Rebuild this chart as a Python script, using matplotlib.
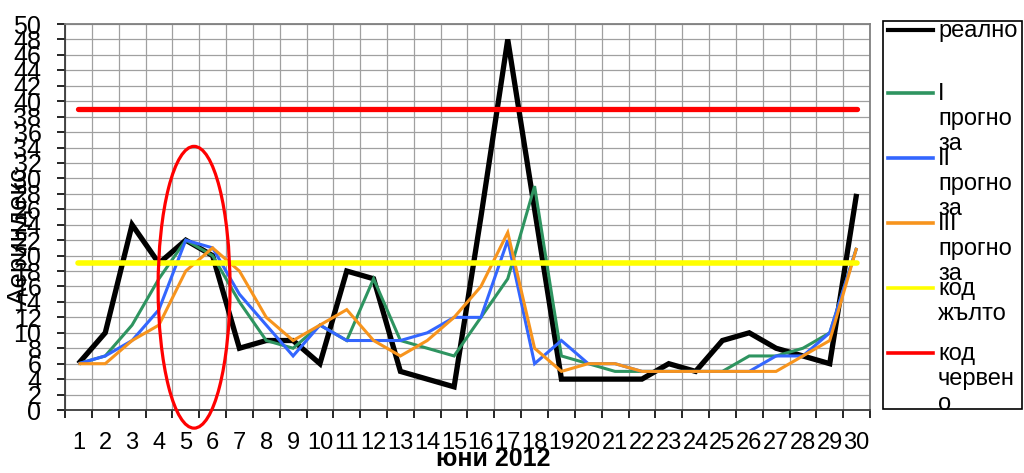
import matplotlib
matplotlib.use("Agg")
import matplotlib.pyplot as plt
from matplotlib.patches import Ellipse, Rectangle
from matplotlib.lines import Line2D

plt.rcParams['font.family'] = ['Liberation Sans', 'DejaVu Sans']

# ---------------- data ----------------
days = list(range(1, 31))
real = [6, 10, 24, 19, 22, 20, 8, 9, 9, 6, 18, 17, 5, 4, 3, 25, 48, 26, 4, 4,
        4, 4, 6, 5, 9, 10, 8, 7, 6, 28]
forecast1 = [6, 7, 11, 17, 22, 20, 14, 9, 8, 11, 9, 17, 9, 8, 7, 12, 17, 29, 7, 6,
             5, 5, 5, 5, 5, 7, 7, 8, 10, 21]
forecast2 = [6, 7, 9, 13, 22, 21, 15, 11, 7, 11, 9, 9, 9, 10, 12, 12, 22, 6, 9, 6,
             6, 5, 5, 5, 5, 5, 7, 7, 10, 21]
forecast3 = [6, 6, 9, 11, 18, 21, 18, 12, 9, 11, 13, 9, 7, 9, 12, 16, 23, 8, 5, 6,
             6, 5, 5, 5, 5, 5, 5, 7, 9, 21]
yellow_code = 19
red_code = 39
ytick_values = list(range(0, 51, 2))
xtick_labels = [str(d) for d in days]
series_labels = ["реално", "I\nпрогно\nза", "II\nпрогно\nза", "III\nпрогно\nза",
                 "код\nжълто", "код\nчервен\nо"]
x_title = "юни 2012"
y_title = "Аериндекс"
# highlight ellipse (data units): centre day, centre value, width, height
ell_center = (5.31, 15.9)
ell_size = (2.68, 36.5)

colors = ["#000000", "#2E9460", "#3366FF", "#F7941D", "#FFFF00", "#FF0000"]
widths = [3.8, 2.2, 2.2, 2.2, 4.0, 3.8]

# ---------------- figure ----------------
W, H = 1024, 473
fig = plt.figure(figsize=(W / 100, H / 100), dpi=100)
ax_l, ax_r, ax_t, ax_b = 65, 870, 24, 410
ax = fig.add_axes([ax_l / W, 1 - ax_b / H, (ax_r - ax_l) / W, (ax_b - ax_t) / H])

series = [real, forecast1, forecast2, forecast3]
for i, s in enumerate(series):
    ax.plot(days, s, color=colors[i], lw=widths[i], zorder=3 + i,
            solid_joinstyle='miter', solid_capstyle='butt')
ax.hlines(yellow_code, days[0], days[-1], color=colors[4], lw=widths[4], zorder=8,
          capstyle='round')
ax.hlines(red_code, days[0], days[-1], color=colors[5], lw=widths[5], zorder=9,
          capstyle='round')

ell = Ellipse(ell_center, ell_size[0], ell_size[1], fill=False, edgecolor="#FF0000",
              lw=2.3, zorder=10, clip_on=False)
ax.add_patch(ell)

ax.set_xlim(0.5, 30.5)
ax.set_ylim(0, 50)

# y axis
ax.set_yticks(ytick_values)
ax.set_yticklabels([str(v) for v in ytick_values], fontsize=18)
ax.tick_params(axis='y', direction='out', length=6, width=1.2, pad=11, colors='#000000')

# x axis: major ticks at category boundaries, labels at centres
ax.set_xticks([d - 0.5 for d in days] + [days[-1] + 0.5])
ax.set_xticklabels([])
ax.set_xticks(days, minor=True)
ax.set_xticklabels(xtick_labels, minor=True, fontsize=17)
ax.tick_params(axis='x', which='major', direction='out', length=6, width=1.2)
ax.tick_params(axis='x', which='minor', length=0, pad=16)

ax.grid(True, which='major', color='#A0A0A0', lw=0.9, zorder=0)
ax.set_axisbelow(True)

for side in ['top', 'right']:
    ax.spines[side].set_color('#808080')
    ax.spines[side].set_linewidth(1.3)
for side in ['left', 'bottom']:
    ax.spines[side].set_color('#3A3A3A')
    ax.spines[side].set_linewidth(1.3)

ax.set_xlabel(x_title, fontsize=18, fontweight='bold')
ax.xaxis.set_label_coords((493 - ax_l) / (ax_r - ax_l), -(459 - ax_b) / (ax_b - ax_t))
ax.xaxis.label.set_verticalalignment('center')
ax.set_ylabel(y_title, fontsize=20)
ax.yaxis.set_label_coords((20 - ax_l) / (ax_r - ax_l), (ax_b - 236) / (ax_b - ax_t))
ax.yaxis.label.set_verticalalignment('center')

# ---------------- legend (manual, Excel-like wrapping) ----------------
def fx(px):
    return px / W

def fy(py):
    return 1 - py / H

box = Rectangle((fx(883), fy(409)), fx(1022) - fx(883), fy(21) - fy(409),
                transform=fig.transFigure, fill=False, edgecolor='#000000', lw=1.2)
fig.add_artist(box)
handle_y = [30, 93, 158, 223, 288, 353]
for i, lab in enumerate(series_labels):
    hy = handle_y[i]
    fig.add_artist(Line2D([fx(888), fx(933)], [fy(hy), fy(hy)], transform=fig.transFigure,
                          color=colors[i], lw=2.6 if i else 3.0))
    for k, line in enumerate(lab.split("\n")):
        fig.text(fx(938), fy(hy + 7 + 25 * k), line, fontsize=17, ha='left',
                 va='baseline', color='#000000')

fig.savefig("out.png", dpi=100)
